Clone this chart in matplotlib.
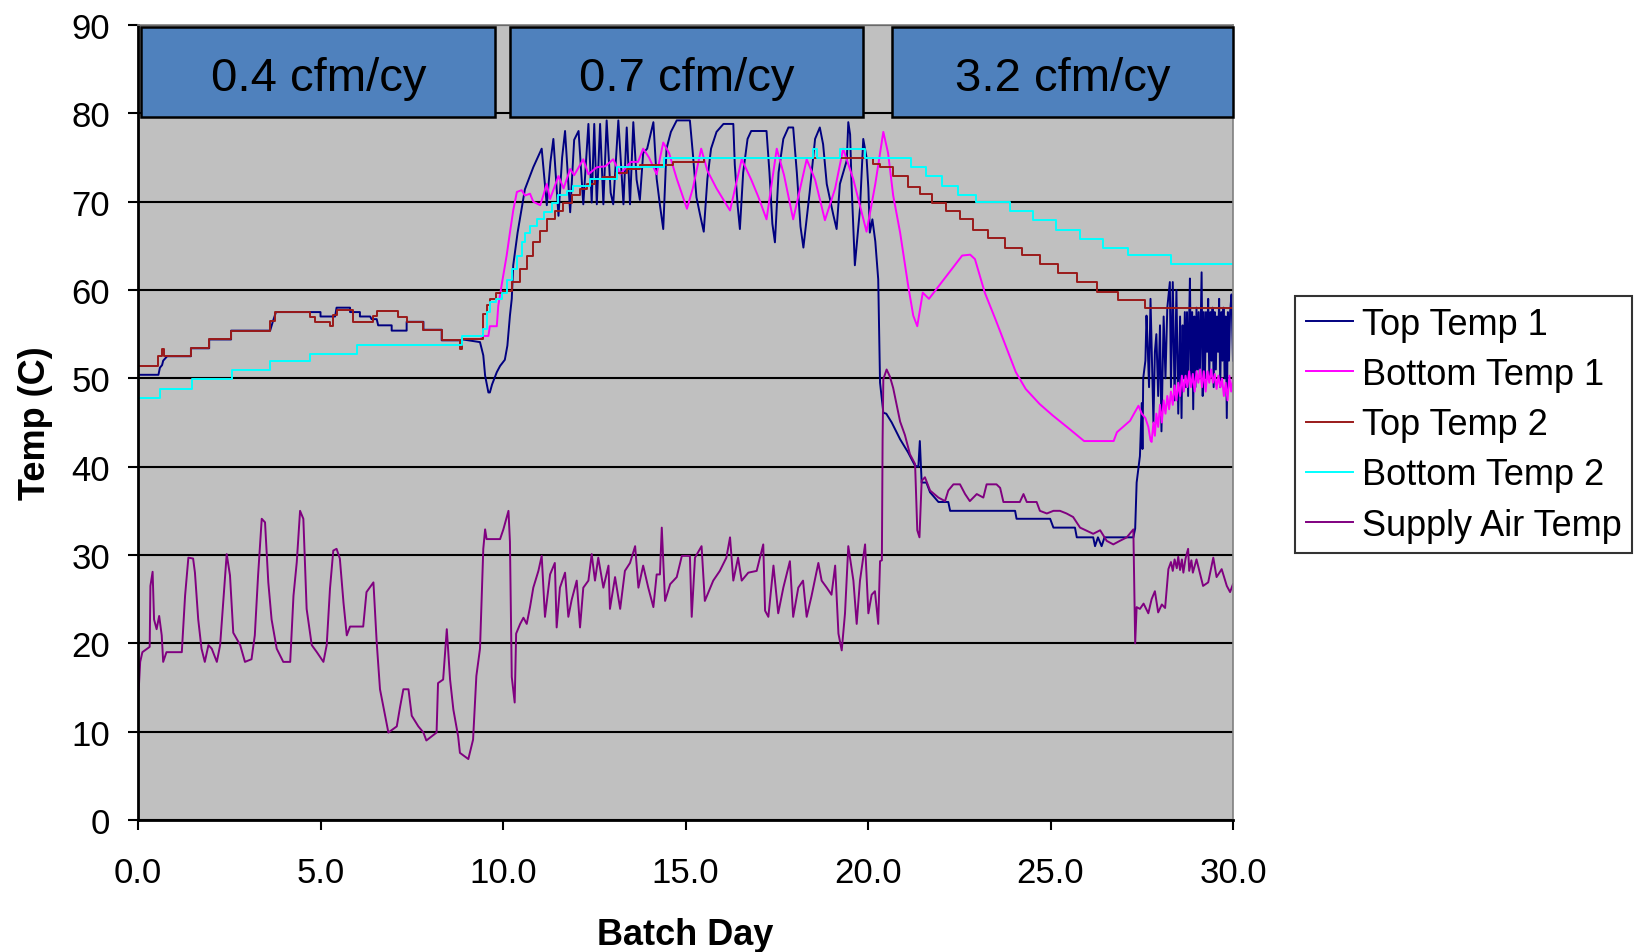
import numpy as np
import matplotlib
matplotlib.use('Agg')
import matplotlib.pyplot as plt
from matplotlib.patches import Rectangle

plt.rcParams['font.family'] = ['Liberation Sans', 'DejaVu Sans']

# (batch day, temp C)
top_temp_1 = [
    (0.0, 50.4), (0.56, 50.4), (0.6, 51.2), (0.66, 51.5), (0.69, 52.0), (0.8, 52.5),
    (1.45, 52.5), (1.45, 53.4), (1.95, 53.4), (1.95, 54.4), (2.55, 54.4), (2.55, 55.4),
    (3.62, 55.4), (3.7, 56.5), (3.78, 57.5), (5.0, 57.5), (5.0, 57.0), (5.4, 57.0),
    (5.44, 58.0), (5.81, 58.0), (5.81, 57.5), (6.08, 57.5), (6.08, 57.0), (6.36, 57.0),
    (6.4, 56.7), (6.54, 56.7), (6.58, 56.0), (6.95, 56.0), (6.95, 55.4), (7.36, 55.4),
    (7.36, 56.4), (7.82, 56.4), (7.82, 55.5), (8.32, 55.5), (8.32, 54.3), (8.87, 54.3),
    (8.9, 54.4), (9.37, 54.1), (9.46, 52.6), (9.51, 50.3), (9.6, 48.4), (9.64, 48.4),
    (9.7, 49.3), (9.83, 50.7), (9.92, 51.4), (10.05, 52.1), (10.12, 53.7), (10.19, 57.1),
    (10.24, 59.0), (10.28, 62.8), (10.4, 66.5), (10.6, 71.4), (10.7, 72.5), (10.83, 73.9),
    (10.95, 75.0), (11.06, 76.0), (11.2, 69.6), (11.3, 74.5), (11.38, 77.1), (11.52, 68.4),
    (11.62, 75.0), (11.7, 78.0), (11.84, 68.8), (11.95, 77.0), (12.07, 78.0), (12.2, 69.7),
    (12.34, 78.8), (12.43, 69.9), (12.5, 78.8), (12.57, 69.7), (12.66, 78.8), (12.75, 69.7),
    (12.84, 79.2), (12.95, 71.0), (13.02, 69.7), (13.16, 79.2), (13.3, 69.7), (13.39, 78.4),
    (13.48, 69.7), (13.57, 79.0), (13.66, 72.5), (13.75, 70.2), (13.84, 75.5), (13.95, 76.0),
    (14.12, 79.0), (14.21, 72.6), (14.3, 69.6), (14.39, 66.9), (14.48, 76.0), (14.6, 77.9),
    (14.76, 79.2), (15.12, 79.2), (15.2, 75.5), (15.3, 70.5), (15.4, 68.5), (15.5, 66.6),
    (15.6, 72.6), (15.7, 76.0), (15.85, 77.9), (16.04, 78.8), (16.31, 78.8), (16.35, 74.2),
    (16.43, 69.5), (16.49, 66.9), (16.58, 73.3), (16.7, 77.1), (16.8, 78.0), (17.22, 78.0),
    (17.3, 73.3), (17.38, 67.5), (17.45, 65.4), (17.55, 73.3), (17.68, 77.1), (17.82, 78.4),
    (17.95, 78.4), (18.05, 73.3), (18.15, 67.2), (18.23, 64.8), (18.4, 71.0), (18.55, 77.1),
    (18.68, 78.4), (18.77, 76.5), (18.87, 72.0), (19.05, 68.5), (19.14, 66.9), (19.23, 72.0),
    (19.42, 74.7), (19.46, 79.0), (19.51, 77.6), (19.55, 71.9), (19.64, 62.8), (19.78, 69.2),
    (19.87, 77.1), (19.96, 75.0), (20.01, 71.5), (20.05, 66.5), (20.12, 68.0), (20.2, 65.5),
    (20.28, 61.2), (20.33, 49.5), (20.42, 46.1), (20.5, 46.0), (20.65, 45.0), (20.88, 43.1),
    (21.1, 41.6), (21.29, 40.1), (21.38, 40.0), (21.42, 42.9), (21.47, 38.2), (21.6, 38.2),
    (21.7, 37.1), (21.93, 36.0), (22.2, 36.0), (22.25, 35.0), (24.03, 35.0), (24.07, 34.1),
    (24.99, 34.1), (25.08, 33.1), (25.67, 33.1), (25.72, 32.0), (26.17, 32.0), (26.22, 31.0),
    (26.3, 32.0), (26.4, 31.0), (26.48, 32.0), (27.27, 32.0), (27.32, 33.0), (27.36, 38.2),
    (27.45, 41.2), (27.5, 47.2), (27.52, 42.0), (27.54, 50.0), (27.6, 52.0), (27.63, 57.1),
    (27.66, 54.0), (27.7, 49.0), (27.74, 59.0), (27.78, 52.0), (27.82, 45.0), (27.86, 53.0),
    (27.9, 55.0), (27.95, 48.0), (28.0, 56.0), (28.04, 44.0), (28.1, 57.0), (28.15, 50.0),
    (28.2, 58.0), (28.27, 60.9), (28.3, 49.0), (28.35, 60.9), (28.4, 47.5), (28.45, 60.0),
    (28.5, 46.0), (28.55, 57.0), (28.59, 45.5), (28.62, 56.0), (28.65, 50.0), (28.68, 57.5),
    (28.71, 49.0), (28.74, 57.5), (28.77, 48.0), (28.8, 57.0), (28.82, 61.3), (28.85, 50.0),
    (28.88, 57.5), (28.91, 46.5), (28.94, 57.0), (28.97, 49.0), (29.0, 58.0), (29.03, 51.0),
    (29.06, 57.5), (29.09, 50.0), (29.12, 57.0), (29.14, 62.0), (29.17, 48.0), (29.2, 57.5),
    (29.23, 50.0), (29.26, 57.5), (29.29, 53.0), (29.32, 59.0), (29.35, 50.0), (29.38, 57.5),
    (29.41, 52.0), (29.44, 58.0), (29.47, 49.0), (29.5, 57.5), (29.53, 51.0), (29.56, 57.0),
    (29.59, 53.0), (29.62, 59.0), (29.65, 49.0), (29.68, 57.5), (29.71, 52.0), (29.74, 58.0),
    (29.77, 50.0), (29.8, 57.0), (29.83, 45.5), (29.86, 57.5), (29.89, 52.0), (29.92, 57.5),
    (29.96, 59.5), (30.0, 52.0),
]

bottom_temp_1 = [
    (9.4, 54.5), (9.46, 54.8), (9.6, 54.8), (9.64, 55.9), (9.83, 55.9), (9.87, 58.2),
    (9.96, 60.5), (10.1, 63.9), (10.19, 66.5), (10.28, 69.0), (10.38, 71.1), (10.51, 71.3),
    (10.6, 70.7), (10.74, 70.9), (10.83, 70.0), (11.02, 69.6), (11.2, 72.0), (11.29, 70.3),
    (11.52, 72.9), (11.66, 71.5), (11.84, 73.7), (11.95, 73.0), (12.2, 74.8), (12.34, 73.1),
    (12.57, 73.9), (12.8, 74.0), (13.02, 74.8), (13.21, 73.1), (13.5, 74.5), (13.7, 74.5),
    (13.84, 76.0), (14.0, 75.0), (14.21, 73.1), (14.39, 76.7), (14.55, 75.5), (14.76, 72.6),
    (15.04, 69.2), (15.2, 71.5), (15.43, 76.0), (15.6, 73.5), (15.85, 71.5), (16.22, 69.0),
    (16.54, 74.8), (16.8, 72.5), (17.0, 70.5), (17.22, 68.0), (17.5, 76.0), (17.7, 73.0),
    (17.95, 68.0), (18.32, 74.8), (18.55, 72.5), (18.82, 67.9), (19.1, 71.5), (19.32, 76.0),
    (19.6, 72.5), (19.96, 66.6), (20.2, 72.0), (20.42, 77.9), (20.55, 75.5), (20.69, 70.7),
    (20.88, 66.5), (21.1, 60.5), (21.24, 57.1), (21.35, 55.9), (21.5, 59.7), (21.67, 59.0),
    (21.8, 59.7), (22.02, 60.9), (22.3, 62.4), (22.58, 63.9), (22.8, 64.0), (22.93, 63.5),
    (23.2, 59.7), (23.5, 56.6), (23.77, 53.7), (24.05, 50.7), (24.32, 48.8), (24.7, 47.1),
    (25.06, 45.8), (25.51, 44.3), (25.92, 42.9), (26.73, 42.9), (26.82, 43.9), (27.18, 45.2),
    (27.41, 46.9), (27.5, 46.0), (27.6, 45.5), (27.68, 44.5), (27.74, 43.0), (27.77, 42.8),
    (27.82, 45.0), (27.86, 43.5), (27.9, 46.0), (27.95, 44.5), (28.0, 47.0), (28.05, 45.0),
    (28.1, 47.5), (28.15, 46.0), (28.2, 48.0), (28.25, 46.5), (28.3, 48.5), (28.35, 47.0),
    (28.4, 49.2), (28.45, 47.5), (28.5, 49.5), (28.55, 48.0), (28.6, 50.3), (28.65, 48.5),
    (28.7, 50.3), (28.75, 49.0), (28.8, 50.8), (28.85, 49.0), (28.9, 50.5), (28.95, 48.5),
    (29.0, 50.8), (29.05, 49.5), (29.1, 51.0), (29.15, 49.0), (29.2, 50.8), (29.25, 48.5),
    (29.3, 50.8), (29.35, 49.5), (29.4, 51.0), (29.45, 49.5), (29.5, 50.5), (29.55, 48.8),
    (29.6, 50.3), (29.65, 49.0), (29.7, 50.0), (29.75, 48.0), (29.8, 49.5), (29.85, 47.5),
    (29.9, 50.3), (29.95, 48.5), (30.0, 50.0),
]

# step series (value holds until next day listed)
top_temp_2 = [
    (0.0, 51.4), (0.56, 52.5), (0.66, 53.3), (0.72, 52.5), (1.45, 53.4), (1.95, 54.4),
    (2.55, 55.4), (3.62, 56.5), (3.75, 57.5), (4.71, 56.9), (4.85, 56.4), (5.26, 55.9),
    (5.35, 57.2), (5.44, 57.7), (5.9, 56.4), (6.45, 57.1), (6.54, 57.6), (7.11, 56.9),
    (7.36, 56.4), (7.82, 55.5), (8.32, 54.3), (8.82, 53.3), (8.87, 54.4), (9.46, 57.3),
    (9.55, 58.3), (9.64, 59.0), (9.8, 59.7), (10.0, 59.9), (10.24, 60.9), (10.47, 62.4),
    (10.65, 63.9), (10.83, 65.4), (11.0, 66.7), (11.2, 68.0), (11.42, 68.9), (11.65, 69.9),
    (11.88, 70.7), (12.1, 71.4), (12.3, 72.0), (12.52, 72.6), (12.75, 72.8), (13.1, 73.3),
    (13.4, 73.7), (13.75, 74.1), (14.67, 74.5), (15.5, 75.0), (20.15, 74.3), (20.33, 73.9),
    (20.69, 72.9), (21.1, 71.7), (21.42, 70.9), (21.74, 69.9), (22.14, 68.9), (22.52, 68.0),
    (22.88, 66.8), (23.3, 65.9), (23.75, 64.8), (24.21, 64.0), (24.71, 63.0), (25.21, 61.9),
    (25.72, 60.9), (26.27, 59.8), (26.86, 58.9), (27.59, 58.0), (30.0, 58.0),
]

bottom_temp_2 = [
    (0.0, 47.8), (0.6, 48.8), (1.47, 49.9), (2.57, 51.0), (3.62, 52.0), (4.71, 52.8),
    (5.99, 53.8), (8.87, 54.8), (9.46, 55.6), (9.55, 57.5), (9.64, 58.6), (9.8, 59.0),
    (9.96, 59.7), (10.1, 61.1), (10.24, 62.4), (10.38, 63.9), (10.51, 65.4), (10.6, 66.5),
    (10.74, 67.3), (10.92, 68.0), (11.11, 68.8), (11.34, 69.9), (11.52, 70.7), (11.75, 71.2),
    (11.93, 71.8), (12.39, 72.6), (13.12, 73.9), (14.4, 74.9), (18.5, 76.0), (18.6, 74.9),
    (19.23, 76.0), (19.92, 74.9), (21.19, 73.9), (21.6, 72.9), (22.02, 71.8), (22.47, 70.8),
    (22.97, 70.0), (23.88, 68.9), (24.52, 67.9), (25.16, 66.8), (25.8, 65.8), (26.43, 64.8),
    (27.12, 64.0), (28.3, 62.9), (30.0, 62.9),
]

supply_air_temp = [
    (0.02, 14.8), (0.06, 17.9), (0.12, 19.0), (0.25, 19.4), (0.32, 19.6), (0.34, 26.5),
    (0.4, 28.1), (0.44, 22.7), (0.51, 21.6), (0.58, 23.1), (0.65, 20.9), (0.69, 17.9),
    (0.78, 19.0), (1.2, 19.0), (1.29, 25.4), (1.38, 29.7), (1.51, 29.6), (1.56, 28.0),
    (1.65, 22.7), (1.74, 19.4), (1.83, 17.9), (1.93, 19.8), (2.02, 19.4), (2.16, 17.9),
    (2.25, 19.8), (2.34, 25.0), (2.43, 30.1), (2.52, 27.7), (2.61, 21.2), (2.8, 19.8),
    (2.93, 17.9), (3.11, 18.2), (3.2, 20.9), (3.29, 27.7), (3.39, 34.1), (3.48, 33.7),
    (3.57, 26.9), (3.66, 22.7), (3.8, 19.4), (3.98, 17.9), (4.17, 17.9), (4.26, 25.4),
    (4.35, 29.2), (4.44, 35.0), (4.53, 34.1), (4.62, 23.9), (4.76, 19.8), (4.9, 19.0),
    (5.08, 17.9), (5.17, 19.8), (5.26, 26.2), (5.35, 30.5), (5.44, 30.7), (5.53, 29.6),
    (5.63, 24.6), (5.72, 20.9), (5.81, 21.9), (6.17, 21.9), (6.26, 25.8), (6.45, 26.9),
    (6.54, 20.1), (6.63, 14.8), (6.77, 11.8), (6.86, 9.9), (7.09, 10.6), (7.18, 12.8),
    (7.27, 14.8), (7.41, 14.8), (7.5, 11.8), (7.68, 10.6), (7.82, 9.9), (7.9, 9.0),
    (8.18, 9.9), (8.22, 15.5), (8.36, 15.9), (8.46, 21.6), (8.55, 15.9), (8.64, 12.5),
    (8.77, 9.5), (8.82, 7.6), (9.05, 6.9), (9.18, 9.1), (9.27, 16.3), (9.37, 19.4),
    (9.46, 30.7), (9.51, 32.9), (9.55, 31.8), (9.92, 31.8), (10.01, 32.9), (10.15, 35.0),
    (10.19, 31.5), (10.24, 16.2), (10.32, 13.3), (10.36, 21.1), (10.47, 22.2), (10.56, 22.9),
    (10.65, 22.2), (10.74, 24.1), (10.83, 26.3), (10.97, 28.2), (11.06, 29.9), (11.15, 23.0),
    (11.29, 27.8), (11.42, 29.1), (11.47, 21.8), (11.56, 26.3), (11.7, 28.0), (11.79, 23.0),
    (11.88, 24.9), (12.02, 27.1), (12.11, 21.8), (12.2, 26.3), (12.34, 27.1), (12.43, 30.1),
    (12.52, 27.1), (12.61, 29.7), (12.75, 26.3), (12.89, 28.8), (12.93, 23.9), (13.07, 27.5),
    (13.21, 23.9), (13.34, 28.2), (13.48, 29.1), (13.62, 31.0), (13.71, 26.3), (13.84, 28.8),
    (13.98, 26.3), (14.12, 24.1), (14.21, 27.8), (14.3, 27.8), (14.35, 33.1), (14.44, 24.8),
    (14.58, 26.7), (14.76, 27.5), (14.9, 29.9), (15.12, 29.9), (15.17, 23.0), (15.26, 29.7),
    (15.44, 31.0), (15.53, 24.8), (15.76, 27.1), (15.94, 28.2), (16.12, 29.7), (16.22, 32.0),
    (16.31, 27.1), (16.44, 29.7), (16.54, 27.1), (16.72, 28.0), (16.95, 28.2), (17.13, 31.2),
    (17.18, 23.7), (17.27, 23.0), (17.41, 28.8), (17.54, 23.4), (17.68, 26.3), (17.86, 29.3),
    (17.95, 23.0), (18.09, 26.3), (18.22, 27.1), (18.32, 23.0), (18.45, 25.3), (18.64, 29.1),
    (18.73, 27.1), (18.87, 26.3), (19.0, 25.5), (19.1, 28.8), (19.19, 21.1), (19.28, 19.2),
    (19.37, 23.4), (19.46, 31.0), (19.6, 27.1), (19.69, 22.2), (19.78, 27.1), (19.92, 31.2),
    (20.01, 23.4), (20.1, 25.5), (20.19, 25.9), (20.28, 22.2), (20.33, 29.3), (20.38, 29.4),
    (20.4, 43.1), (20.42, 49.9), (20.51, 51.0), (20.6, 50.2), (20.69, 48.9), (20.88, 45.1),
    (21.01, 43.6), (21.15, 41.4), (21.29, 40.3), (21.35, 32.8), (21.41, 32.0), (21.47, 38.4),
    (21.56, 38.8), (21.7, 37.3), (21.93, 36.5), (22.11, 36.1), (22.2, 37.3), (22.34, 38.0),
    (22.52, 38.0), (22.66, 36.9), (22.79, 36.1), (22.98, 36.9), (23.16, 36.5), (23.25, 38.0),
    (23.52, 38.0), (23.62, 37.6), (23.71, 36.0), (24.16, 36.0), (24.26, 36.9), (24.35, 36.0),
    (24.62, 36.0), (24.71, 35.0), (24.9, 34.7), (25.08, 35.0), (25.26, 35.0), (25.44, 34.7),
    (25.62, 34.3), (25.81, 33.1), (26.17, 32.4), (26.36, 32.8), (26.54, 31.6), (26.72, 31.2),
    (26.9, 31.6), (27.09, 32.0), (27.27, 32.9), (27.32, 20.0), (27.36, 24.1), (27.45, 23.9),
    (27.55, 24.5), (27.68, 23.4), (27.77, 25.0), (27.86, 25.9), (27.95, 23.5), (28.05, 24.4),
    (28.14, 24.0), (28.23, 28.4), (28.3, 29.2), (28.35, 28.2), (28.4, 29.5), (28.46, 28.5),
    (28.5, 29.8), (28.55, 28.3), (28.6, 29.5), (28.64, 28.0), (28.7, 29.6), (28.77, 30.7),
    (28.8, 28.2), (28.86, 29.4), (28.9, 28.0), (29.0, 29.5), (29.09, 28.0), (29.18, 26.5),
    (29.32, 26.9), (29.46, 29.7), (29.55, 27.5), (29.69, 28.4), (29.83, 26.5), (29.92, 25.8),
    (30.0, 26.7),
]

phase_labels = ["0.4 cfm/cy", "0.7 cfm/cy", "3.2 cfm/cy"]
phase_start = [0.09, 10.19, 20.67]
phase_end = [9.79, 19.87, 30.0]

fig = plt.figure(figsize=(16.43, 9.53), dpi=100)
ax = fig.add_axes([138 / 1643, 1 - 821 / 953, 1095 / 1643, 795 / 953])
ax.set_facecolor('#C0C0C0')

lw = 1.4
d, t = zip(*top_temp_1)
ax.plot(d, t, color='#000080', lw=lw, label='Top Temp 1')
d, t = zip(*bottom_temp_1)
ax.plot(d, t, color='#FF00FF', lw=lw, label='Bottom Temp 1')
d, t = zip(*top_temp_2)
ax.plot(d, t, color='#9A1A1A', lw=lw, drawstyle='steps-post', label='Top Temp 2')
d, t = zip(*bottom_temp_2)
ax.plot(d, t, color='#00FFFF', lw=lw, drawstyle='steps-post', label='Bottom Temp 2')
d, t = zip(*supply_air_temp)
ax.plot(d, t, color='#800080', lw=lw, label='Supply Air Temp')

for lab, x0, x1 in zip(phase_labels, phase_start, phase_end):
    ax.add_patch(Rectangle((x0, 79.6), x1 - x0, 10.2, facecolor='#4F81BD',
                           edgecolor='black', lw=1.8, zorder=5, clip_on=False))
    ax.text((x0 + x1) / 2, 84.0, lab, ha='center', va='center', fontsize=34,
            zorder=6)

ax.set_xlim(0, 30)
ax.set_ylim(0, 90)
ax.set_xticks(np.arange(0, 31, 5))
ax.set_xticklabels(['%.1f' % v for v in np.arange(0, 31, 5)])
ax.set_yticks(np.arange(0, 91, 10))
ax.yaxis.grid(True, color='black', lw=1.5)
ax.set_axisbelow(True)
ax.tick_params(axis='both', labelsize=25, length=7, width=1.5, color='black')
ax.tick_params(axis='x', pad=19)
ax.tick_params(axis='y', pad=13)
for s in ['left', 'bottom']:
    ax.spines[s].set_color('black')
    ax.spines[s].set_linewidth(2)
for s in ['right', 'top']:
    ax.spines[s].set_color('#808080')
    ax.spines[s].set_linewidth(1.2)

ax.set_xlabel('Batch Day', fontsize=26, fontweight='bold')
ax.set_ylabel('Temp (C)', fontsize=26, fontweight='bold')
ax.xaxis.set_label_coords(0.5, -0.122)
ax.yaxis.set_label_coords(-0.078, 0.5)

leg = fig.legend(loc='upper left', bbox_to_anchor=(1295 / 1643, 1 - 297 / 953),
                 fontsize=26, frameon=True, fancybox=False, handlelength=1.3,
                 handletextpad=0.25, borderpad=0.3, labelspacing=0.42,
                 borderaxespad=0)
leg.get_frame().set_edgecolor('black')
leg.get_frame().set_linewidth(1.5)
for l in leg.get_lines():
    l.set_linewidth(1.4)

fig.savefig('out.png', dpi=100)
plt.close()
